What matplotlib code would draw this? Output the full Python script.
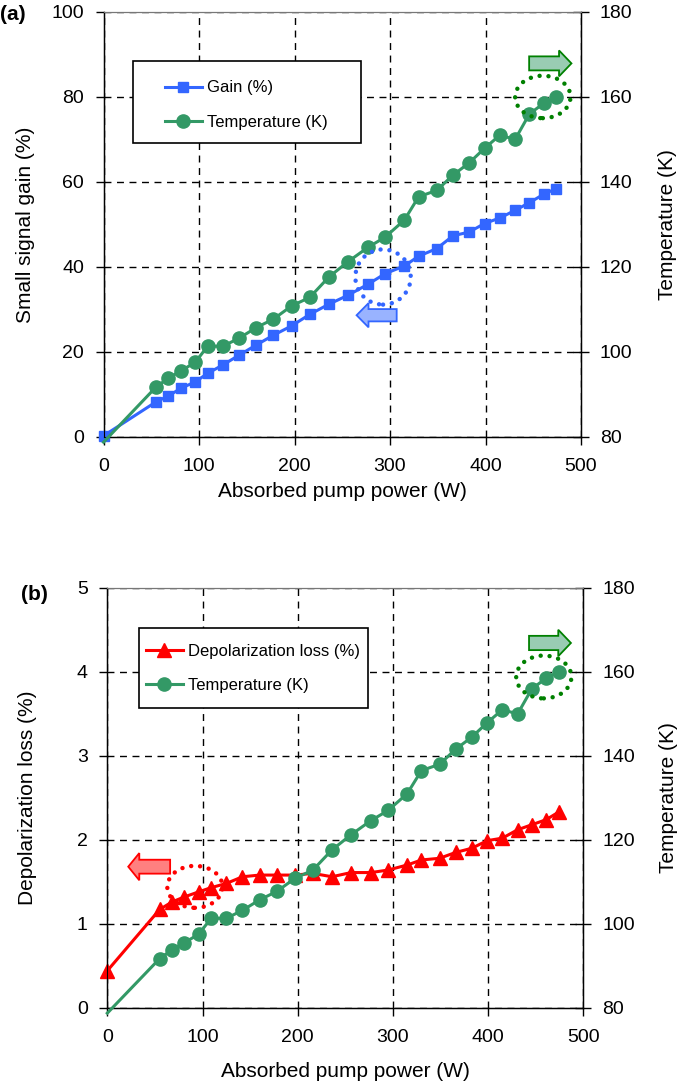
import matplotlib
matplotlib.use('Agg')
import matplotlib.pyplot as plt
import matplotlib.patches as patches
from matplotlib.lines import Line2D

plt.rcParams['font.family'] = ['Liberation Sans', 'DejaVu Sans']

# absorbed pump power (W)
power = [0, 55, 68, 81, 96, 109, 125, 142, 160, 178, 197, 216, 236, 256, 277, 295,
         315, 330, 349, 366, 383, 399, 415, 431, 446, 461, 474]
# small signal gain (%)
gain = [0.2, 8.2, 9.6, 11.4, 12.9, 14.9, 16.9, 19.2, 21.6, 23.9, 26.1, 28.8, 31.2, 33.3,
        35.9, 38.4, 40.2, 42.5, 44.3, 47.3, 48.2, 50.2, 51.5, 53.3, 55.1, 57.1, 58.4]
# temperature (K)
temp = [78.7, 91.7, 93.8, 95.5, 97.5, 101.3, 101.3, 103.2, 105.7, 107.7, 110.8, 112.8,
        117.6, 121.2, 124.6, 127.0, 131.0, 136.5, 138.0, 141.6, 144.5, 147.9, 151.0,
        150.0, 156.0, 158.5, 160.0]
# depolarization loss (%)
depol = [0.44, 1.17, 1.26, 1.32, 1.38, 1.43, 1.48, 1.56, 1.58, 1.58, 1.58, 1.60, 1.56,
         1.61, 1.61, 1.64, 1.70, 1.76, 1.78, 1.85, 1.90, 1.99, 2.02, 2.12, 2.18, 2.24, 2.33]

blue = '#3366ff'
green = '#339966'
dkgreen = '#008000'
red = '#ff0000'

W, H = 685, 1086
fig = plt.figure(figsize=(W / 100, H / 100), dpi=100)


def style(ax, ax2, ymax, ystep, ylabel, ylx, xly):
    ax.set_xlim(0, 500)
    ax.set_xticks(range(0, 501, 100))
    ax.set_ylim(0, ymax)
    ax.set_yticks([ystep * i for i in range(6)])
    ax2.set_ylim(80, 180)
    ax2.set_yticks(range(80, 181, 20))
    ax.grid(True, ls=(0, (5, 4)), color='k', lw=1.0)
    ax.tick_params(axis='x', direction='out', length=6, width=1, pad=9, labelsize=14)
    ax.tick_params(axis='y', direction='out', length=6, width=1, pad=8, labelsize=14)
    ax2.tick_params(axis='y', direction='inout', length=11, width=1, pad=8, labelsize=14)
    for s in ['left', 'bottom']:
        ax.spines[s].set_linewidth(1.0)
    ax2.spines['right'].set_linewidth(1.0)
    ax.spines['top'].set_color('#777777')
    ax2.spines['top'].set_color('#777777')
    ax.set_xlabel('Absorbed pump power (W)', fontsize=15)
    ax.xaxis.set_label_coords(0.5, xly)
    ax.xaxis.label.set_va('center')
    ax.set_ylabel(ylabel, fontsize=15)
    ax.yaxis.set_label_coords(ylx, 0.5)
    ax.yaxis.label.set_va('center')
    ax2.set_ylabel('Temperature (K)', fontsize=15)
    ax2.yaxis.set_label_coords(1.182, 0.5)
    ax2.yaxis.label.set_va('center')


def legend_box(ax2, handles, labels, hx, cy, rect):
    box = patches.Rectangle(rect[:2], rect[2], rect[3], transform=ax2.transAxes,
                            facecolor='white', edgecolor='k', lw=1.2, zorder=8, clip_on=False)
    ax2.add_patch(box)
    leg = ax2.legend(handles, labels, loc='center left', bbox_to_anchor=(hx, cy),
                     frameon=False, fontsize=12, handlelength=2.2, handletextpad=0.3,
                     labelspacing=1.15, borderpad=0, borderaxespad=0)
    leg.set_zorder(9)


# annotations go on the twin axes (drawn last) but use the given data transform
def ellipse(top, ax, xy, w, h, color):
    e = patches.Ellipse(xy, w, h, fill=False, edgecolor=color, lw=3.2,
                        ls=(0, (0.01, 2.0)), capstyle='round', zorder=6,
                        transform=ax.transData)
    top.add_patch(e)


def arrow(top, ax, x0, x1, y, body, head, hl, face, edge):
    a = patches.FancyArrow(x0, y, x1 - x0, 0, width=body, head_width=head, head_length=hl,
                           length_includes_head=True, facecolor=face, edgecolor=edge,
                           lw=1.3, zorder=6, transform=ax.transData)
    top.add_patch(a)


# (a) gain and temperature
ax = fig.add_axes([103.5 / W, 1 - 436.7 / H, 477.5 / W, 424.7 / H])
ax2 = ax.twinx()
style(ax, ax2, 100, 20, 'Small signal gain (%)', -0.164, -0.13)
ax.plot(power, gain, color=blue, lw=2.2, marker='s', ms=7.5, mec=blue, clip_on=False, zorder=5)
ax2.plot(power, temp, color=green, lw=2.2, marker='o', ms=9.5, mec=green,
         markevery=list(range(1, len(power))), clip_on=False, zorder=5)
ellipse(ax2, ax, (292.7, 37.6), 58, 13, blue)
arrow(ax2, ax, 307, 265, 28.6, 2.9, 5.7, 12.5, '#99b3ff', blue)
ellipse(ax2, ax2, (460, 160), 58, 10, dkgreen)
arrow(ax2, ax2, 445.7, 490, 167.9, 3.3, 6.1, 13, '#99ccb3', dkgreen)
h1 = [Line2D([], [], color=blue, lw=2.2, marker='s', ms=7.5),
      Line2D([], [], color=green, lw=2.2, marker='o', ms=9.5)]
legend_box(ax2, h1, ['Gain (%)', 'Temperature (K)'], 0.1288, 0.781,
           (0.0624, 0.692, 0.476, 0.193))

# (b) depolarization loss and temperature
bx = fig.add_axes([107.3 / W, 1 - 1007.7 / H, 476 / W, 419.7 / H])
bx2 = bx.twinx()
style(bx, bx2, 5, 1, 'Depolarization loss (%)', -0.167, -0.153)
bx2.yaxis.set_label_coords(1.178, 0.5)
bx.plot(power, depol, color=red, lw=2.2, marker='^', ms=10, mec=red, clip_on=False, zorder=5)
bx2.plot(power, temp, color=green, lw=2.2, marker='o', ms=9.5, mec=green,
         markevery=list(range(1, len(power))), clip_on=False, zorder=5)
ellipse(bx2, bx, (92, 1.44), 58, 0.5, red)
arrow(bx2, bx, 66, 22, 1.68, 0.166, 0.324, 11.6, '#ff8080', red)
ellipse(bx2, bx2, (458.5, 158.8), 58, 10.2, dkgreen)
arrow(bx2, bx2, 443, 487, 166.9, 3.4, 6.3, 13.3, '#99ccb3', dkgreen)
h2 = [Line2D([], [], color=red, lw=2.2, marker='^', ms=10),
      Line2D([], [], color=green, lw=2.2, marker='o', ms=9.5)]
legend_box(bx2, h2, ['Depolarization loss (%)', 'Temperature (K)'], 0.0813, 0.8077,
           (0.0672, 0.7134, 0.4798, 0.1906))

fig.text(0 / W, 1 - 15 / H, '(a)', fontsize=15, fontweight='bold', va='center', ha='left')
fig.text(21 / W, 1 - 595 / H, '(b)', fontsize=15, fontweight='bold', va='center', ha='left')

fig.savefig('out.png', dpi=100)
